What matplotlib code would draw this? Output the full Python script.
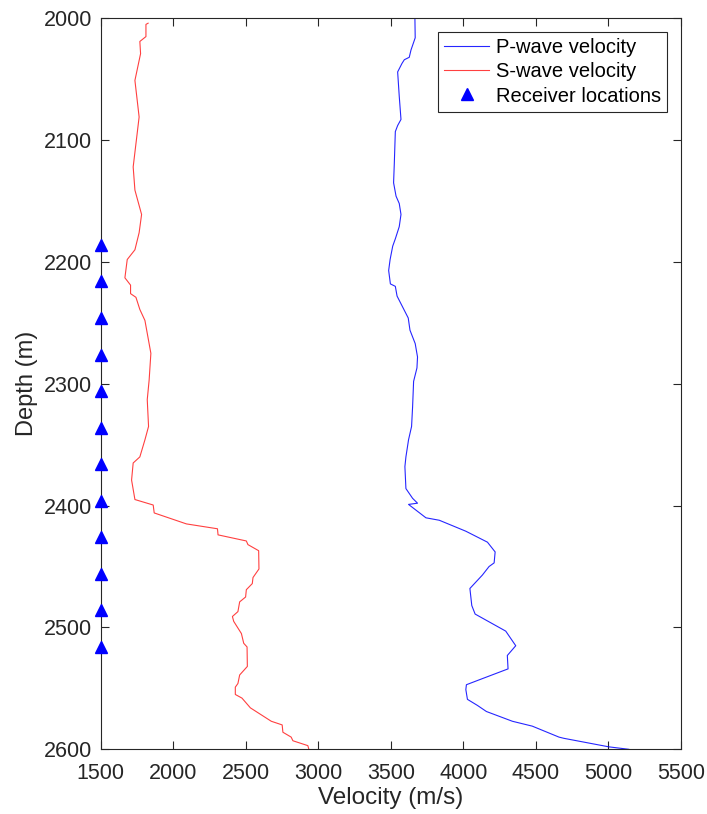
import matplotlib
matplotlib.use("Agg")
import matplotlib.pyplot as plt

# P-wave velocity profile (m/s) vs depth (m)
p_depth = [2000, 2016, 2026, 2032, 2034, 2037, 2044, 2064, 2083, 2088, 2093, 2119, 2135,
           2146, 2152, 2161, 2171, 2181, 2187, 2198, 2207, 2218, 2220, 2228, 2246, 2256,
           2267, 2278, 2287, 2298, 2319, 2335, 2346, 2360, 2368, 2386, 2394, 2398, 2399,
           2410, 2412, 2421, 2430, 2438, 2447, 2450, 2457, 2468, 2482, 2489, 2503, 2515,
           2523, 2534, 2542, 2547, 2551, 2559, 2564, 2569, 2577, 2581, 2590, 2591, 2598, 2600]
p_vel = [3666, 3668, 3639, 3627, 3593, 3577, 3547, 3558, 3570, 3547, 3531, 3524, 3519,
         3536, 3558, 3570, 3558, 3531, 3513, 3495, 3485, 3497, 3531, 3543, 3620, 3632,
         3668, 3684, 3680, 3657, 3650, 3643, 3622, 3604, 3597, 3604, 3650, 3684, 3622,
         3742, 3834, 4017, 4166, 4219, 4212, 4177, 4131, 4045, 4058, 4081, 4292, 4361,
         4303, 4308, 4131, 4021, 4017, 4028, 4097, 4159, 4338, 4475, 4659, 4693, 5003, 5140]

# S-wave velocity profile (m/s) vs depth (m)
s_depth = [2004, 2005, 2015, 2019, 2029, 2051, 2081, 2122, 2141, 2161, 2176, 2190, 2198,
           2213, 2219, 2226, 2229, 2239, 2248, 2275, 2297, 2313, 2335, 2346, 2360, 2365,
           2379, 2395, 2399.5, 2406, 2415, 2419, 2424, 2429, 2432, 2437, 2452, 2459, 2464,
           2469, 2475, 2479, 2487, 2491, 2495, 2505, 2513, 2516, 2532, 2539, 2546, 2549,
           2555, 2558, 2566, 2577, 2580, 2586, 2590, 2593, 2597, 2600]
s_vel = [1827, 1812, 1812, 1770, 1775, 1736, 1765, 1724, 1736, 1782, 1765, 1736, 1683,
         1667, 1706, 1706, 1743, 1770, 1805, 1846, 1834, 1821, 1830, 1805, 1770, 1724,
         1713, 1736, 1862, 1869, 2091, 2305, 2309, 2504, 2515, 2589, 2591, 2550, 2545,
         2504, 2499, 2458, 2446, 2408, 2417, 2470, 2486, 2509, 2511, 2458, 2446, 2428,
         2428, 2474, 2532, 2676, 2751, 2756, 2813, 2825, 2928, 2935]

# receivers in the well
rec_depth = [2186, 2216, 2246, 2276, 2306, 2336, 2366, 2396, 2426, 2456, 2486, 2516]
rec_vel = [1500] * len(rec_depth)

plt.rcParams['font.family'] = ['Liberation Sans', 'DejaVu Sans']

fig = plt.figure(figsize=(7.07, 8.14), dpi=100)
ax = fig.add_axes([0.1424, 0.0795, 0.8208, 0.898])

ax.plot(p_vel, p_depth, color='blue', lw=0.8, alpha=0.85, label='P-wave velocity')
ax.plot(s_vel, s_depth, color='red', lw=0.8, alpha=0.75, label='S-wave velocity')
ax.plot(rec_vel, rec_depth, '^', color='blue', ms=8, clip_on=False, zorder=5,
        label='Receiver locations')

ax.set_xlim(1500, 5500)
ax.set_ylim(2600, 2000)
ax.set_xticks(range(1500, 5501, 500))
ax.set_yticks(range(2000, 2601, 100))
ax.set_xlabel('Velocity (m/s)', fontsize=17.5, color='#262626', labelpad=2)
ax.set_ylabel('Depth (m)', fontsize=17, color='#262626', labelpad=4)
ax.tick_params(direction='in', top=True, right=True, labelsize=15.5,
               colors='#262626', length=6, width=0.8)
ax.tick_params(axis='x', pad=10)
ax.tick_params(axis='y', pad=6)
for sp in ax.spines.values():
    sp.set_color('#262626')
    sp.set_linewidth(0.8)

leg = ax.legend(loc='upper right', fontsize=14.5, fancybox=False, framealpha=1,
                edgecolor='#262626', borderaxespad=0.7, handlelength=2.2,
                handletextpad=0.35, labelspacing=0.25, borderpad=0.3)
leg.get_frame().set_linewidth(0.8)

fig.savefig('out.png', dpi=100)
